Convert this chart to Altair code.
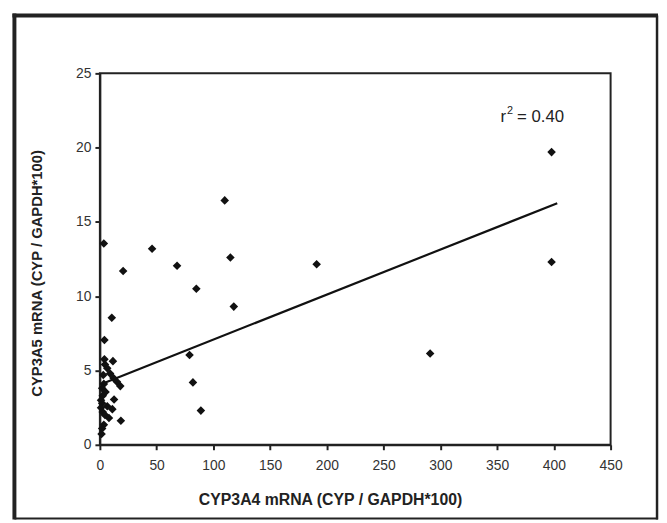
import altair as alt
import pandas as pd

# CYP3A4 (x) vs CYP3A5 (y) mRNA
cyp3a4 = [398, 398, 291, 191, 110, 115, 118, 68, 85, 46, 79, 82, 89,
          3.5, 20.5, 10.5, 4.0, 4.0, 11.5, 4.5, 6.5, 9.0, 12.0, 15.0, 18.0,
          3.5, 2.0, 5.0, 2.5, 12.5, 2.0, 6.5, 11.0, 2.5, 4.5, 8.0, 18.5,
          3.5, 2.0, 1.5, 1.0, 3.0, 1.0]
cyp3a5 = [19.7, 12.3, 6.15, 12.15, 16.45, 12.6, 9.3, 12.05, 10.5, 13.2, 6.05, 4.2, 2.3,
          13.55, 11.7, 8.55, 7.05, 5.75, 5.63, 5.4, 5.15, 4.8, 4.5, 4.25, 3.95,
          4.1, 3.8, 3.55, 3.3, 3.05, 2.8, 2.6, 2.4, 2.2, 2.0, 1.8, 1.62,
          1.35, 1.1, 0.73, 2.5, 4.7, 3.0]

# linear trend line end points
trend_x = [1, 403]
trend_y = [4.08, 16.26]

x_ticks = [0, 50, 100, 150, 200, 250, 300, 350, 400, 450]
y_ticks = [0, 5, 10, 15, 20, 25]

FONT = "Liberation Sans"
INK = "#222"

pts = pd.DataFrame({"x": cyp3a4, "y": cyp3a5})
trend = pd.DataFrame({"x": trend_x, "y": trend_y})

xs = alt.Scale(domain=[0, 450], nice=False, zero=True)
ys = alt.Scale(domain=[0, 25], nice=False, zero=True)

x_axis = alt.Axis(values=x_ticks, title="CYP3A4 mRNA (CYP / GAPDH*100)", grid=False,
                  labelFontSize=14, labelColor="#333", labelFont=FONT, labelPadding=9,
                  tickSize=5, tickWidth=2, tickColor=INK, domainColor=INK, domainWidth=2,
                  titleFont=FONT, titleFontSize=16, titleFontWeight="bold", titleColor=INK,
                  titleX=233, titleY=60, titleBaseline="alphabetic", titleAlign="center",
                  labelFlush=False)
y_axis = alt.Axis(values=y_ticks, title="CYP3A5 mRNA (CYP / GAPDH*100)", grid=False,
                  labelFontSize=14, labelColor="#333", labelFont=FONT, labelPadding=4,
                  tickSize=5, tickWidth=2, tickColor=INK, domainColor=INK, domainWidth=2,
                  titleFont=FONT, titleFontSize=15, titleFontWeight="bold", titleColor=INK,
                  titleX=-59.5, titleY=202, titleBaseline="alphabetic", titleAlign="center",
                  titleAngle=270, labelFlush=False)

points = alt.Chart(pts).mark_point(shape="diamond", filled=True, size=75, color="#111", opacity=1).encode(
    x=alt.X("x:Q", scale=xs, axis=x_axis),
    y=alt.Y("y:Q", scale=ys, axis=y_axis),
)

line = alt.Chart(trend).mark_line(color="#111", strokeWidth=2.2).encode(
    x=alt.X("x:Q", scale=xs), y=alt.Y("y:Q", scale=ys)
)

# r^2 annotation
ann_r = alt.Chart(pd.DataFrame({"x": [353.1], "y": [21.74], "t": ["r"]})).mark_text(
    align="left", baseline="alphabetic", fontSize=17, font=FONT, color=INK
).encode(x=alt.X("x:Q", scale=xs), y=alt.Y("y:Q", scale=ys), text="t:N")
ann_sup = alt.Chart(pd.DataFrame({"x": [358.8], "y": [22.27], "t": ["2"]})).mark_text(
    align="left", baseline="alphabetic", fontSize=11, font=FONT, color=INK
).encode(x=alt.X("x:Q", scale=xs), y=alt.Y("y:Q", scale=ys), text="t:N")
ann_eq = alt.Chart(pd.DataFrame({"x": [367.5], "y": [21.74], "t": ["= 0.40"]})).mark_text(
    align="left", baseline="alphabetic", fontSize=17, font=FONT, color=INK
).encode(x=alt.X("x:Q", scale=xs), y=alt.Y("y:Q", scale=ys), text="t:N")

# outer chart frame (decoration)
frame_base = alt.Chart(pd.DataFrame({"a": [0]}))
f_left = frame_base.mark_rule(color=INK, strokeWidth=4, clip=False).encode(
    x=alt.value(-86.5), y=alt.value(-60.5), y2=alt.value(451.5))
f_top = frame_base.mark_rule(color=INK, strokeWidth=4, clip=False).encode(
    x=alt.value(-88.5), x2=alt.value(565), y=alt.value(-58.5))
f_right = frame_base.mark_rule(color=INK, strokeWidth=2.5, clip=False).encode(
    x=alt.value(564), y=alt.value(-58.5), y2=alt.value(451.5))
f_bottom = frame_base.mark_rule(color=INK, strokeWidth=2, clip=False).encode(
    x=alt.value(-86.5), x2=alt.value(565), y=alt.value(450.5))

chart = alt.layer(f_left, f_top, f_right, f_bottom, line, points, ann_r, ann_sup, ann_eq).properties(
    width=517, height=376,
    autosize=alt.AutoSizeParams(type="none"),
    padding={"left": 93, "top": 63, "right": 49, "bottom": 76},
    background="white",
).configure_view(stroke=INK, strokeWidth=2)

chart.save("out.html", embed_options={"renderer": "svg", "actions": False})
